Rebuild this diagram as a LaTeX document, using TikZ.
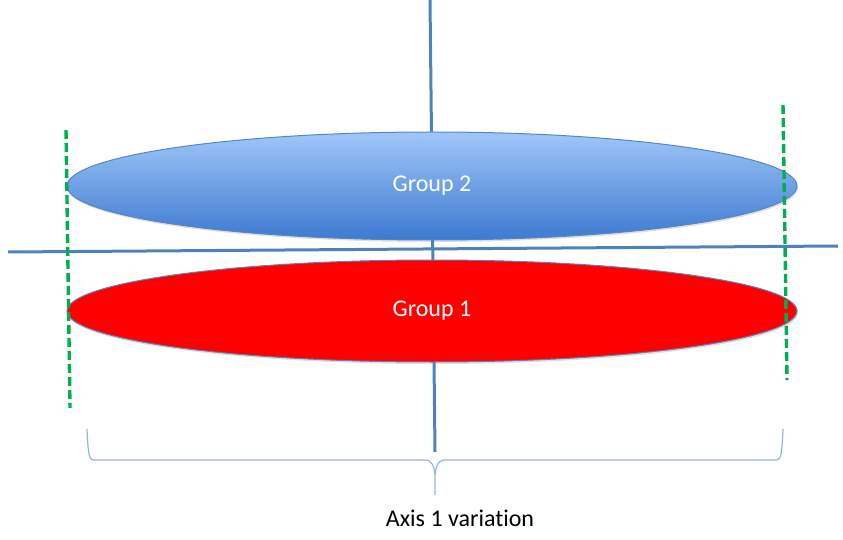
\documentclass[tikz,border=0pt]{standalone}
\usepackage{fontspec}
\setmainfont[Ligatures=NoCommon]{Carlito}
\usetikzlibrary{shapes.geometric,shadows}
\definecolor{axisblue}{HTML}{4F81BD}
\definecolor{ellborder}{HTML}{5A86C0}
\definecolor{topblue}{HTML}{A0C6FA}
\definecolor{botblue}{HTML}{3D7AD0}
\definecolor{dgreen}{HTML}{00B050}
\definecolor{bracec}{HTML}{8DB6E2}
\tikzset{
  axisline/.style={axisblue, line width=3pt},
  groupell/.style={ellipse, draw=ellborder, line width=1pt, minimum width=730pt, inner sep=0pt, text=white, font=\fontsize{24}{26}\selectfont},
  gdash/.style={dgreen, line width=3.4pt, dash pattern=on 9pt off 4pt},
  bracestyle/.style={bracec, line width=1.2pt},
}
\begin{document}
\begin{tikzpicture}[x=1pt,y=-1pt]
\useasboundingbox (0,0) rectangle (843,540);
% axes
\coordinate (vt) at (430,0);
\coordinate (vb) at (435,452);
\coordinate (hl) at (8,252);
\coordinate (hr) at (838,246);
\draw[axisline] (vt) -- (vb);
\draw[axisline] (hl) -- (hr);
% ellipses
\node[groupell, minimum height=108pt, top color=topblue, bottom color=botblue, shading angle=0,
      drop shadow={shadow xshift=1pt, shadow yshift=-2pt, opacity=0.25}] (g2) at (432,186) {\raisebox{-2pt}{Group 2}};
\node[groupell, minimum height=102pt, fill=red,
      drop shadow={shadow xshift=1pt, shadow yshift=-2pt, opacity=0.25}] (g1) at (432,311) {\raisebox{-2pt}{Group 1}};
% green dashed lines
\coordinate (l1) at (66,130);
\coordinate (l2) at (70,408);
\coordinate (r1) at (783,105);
\coordinate (r2) at (787,380);
\draw[gdash] (l1) -- (l2);
\draw[gdash] (r1) -- (r2);
% brace
\coordinate (bl) at (87,429);
\coordinate (br) at (783,429);
\coordinate (bm) at (435,495);
\draw[bracestyle] (bl) .. controls (88,452) and (89,460) .. (93,460)
  -- (425,460) .. controls (432,460) and (434,466) .. (435,475) -- (bm);
\draw[bracestyle] (br) .. controls (782,452) and (781,460) .. (777,460)
  -- (445,460) .. controls (438,460) and (436,466) .. (435,475);
% label
\node[font=\fontsize{24}{26}\selectfont, anchor=center] (lab) at (460,518) {Axis 1 variation};
\end{tikzpicture}
\end{document}
